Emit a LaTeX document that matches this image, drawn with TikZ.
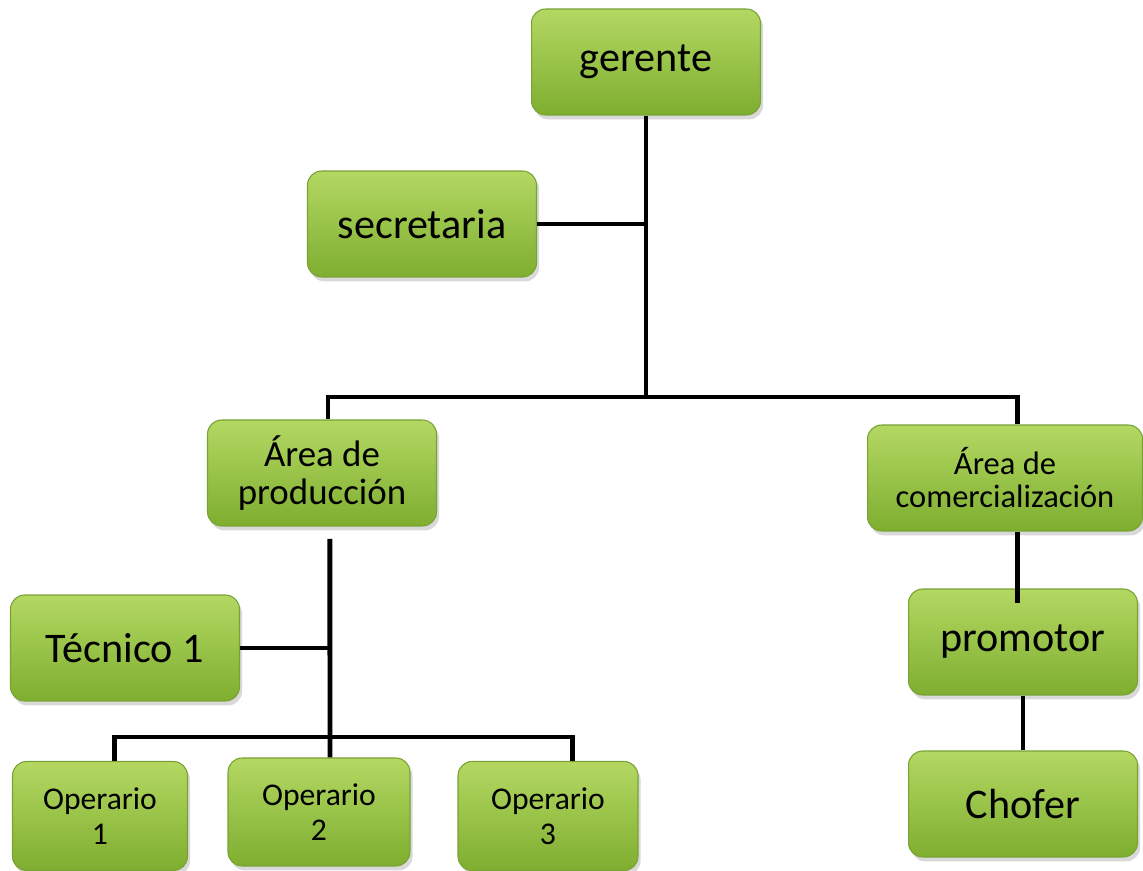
\documentclass[tikz,border=0pt]{standalone}
\usepackage{fontspec}
\setmainfont{Carlito}
\usetikzlibrary{positioning,shadows}
\definecolor{boxtop}{RGB}{180,216,98}
\definecolor{boxbot}{RGB}{126,174,48}
\definecolor{boxline}{RGB}{120,162,52}

\begin{document}
\begin{tikzpicture}[x=0.02cm, y=-0.02cm, line width=2.8pt]
\tikzstyle{box}=[rectangle, rounded corners=8pt, top color=boxtop, bottom color=boxbot,
  draw=boxline, line width=0.6pt, align=center, inner sep=0pt, text=black,
  drop shadow={opacity=0.3, shadow xshift=1.5pt, shadow yshift=-2.5pt},
  minimum width=4.58cm, minimum height=2.12cm, font=\fontsize{24}{26}\selectfont]
\useasboundingbox (0,0) rectangle (1143,871);
\node[box]    (ger)  at (646,62)   {gerente};
\node[box]    (sec)  at (422,224)  {secretaria};
\node[box, font=\fontsize{21}{21.6}\selectfont]    (prod) at (322,473)  {Área de\\producción};
\node[box, minimum width=5.5cm, font=\fontsize{18.5}{18.8}\selectfont]    (com)  at (1005,478) {Área de\\comercialización};
\node[box]    (tec)  at (125,648)  {Técnico 1};
\node[box]    (prom) at (1023,642) {promotor};
\node[box]    (chof) at (1023,804) {Chofer};
\node[box, minimum width=3.5cm, minimum height=2.18cm, font=\fontsize{18}{20}\selectfont]  (op1) at (100,816) {Operario\\1};
\node[box, minimum width=3.64cm, minimum height=2.16cm, font=\fontsize{18}{20}\selectfont] (op2) at (319,812) {Operario\\2};
\node[box, minimum width=3.6cm, minimum height=2.18cm, font=\fontsize{18}{20}\selectfont]  (op3) at (548,816) {Operario\\3};

\coordinate (j1) at (646,397);
\coordinate (j2) at (330,737);
\draw (ger) -- (j1);
\draw (sec) -- (sec -| ger);
\draw ([xshift=3.4pt]prod.north) |- (j1) -| ([xshift=7pt]com.north);
\draw ([xshift=4.5pt,yshift=-7pt]prod.south) -- (j2 |- op2.north);
\draw (tec) -- (tec -| j2);
\draw ([xshift=8.5pt]op1.north) |- (j2) -| ([xshift=13.7pt]op3.north);
\draw ([xshift=7pt]com.south) -- ([xshift=7pt,yshift=-8pt]com.south |- prom.north);
\draw (prom) -- (chof);
\end{tikzpicture}
\end{document}
